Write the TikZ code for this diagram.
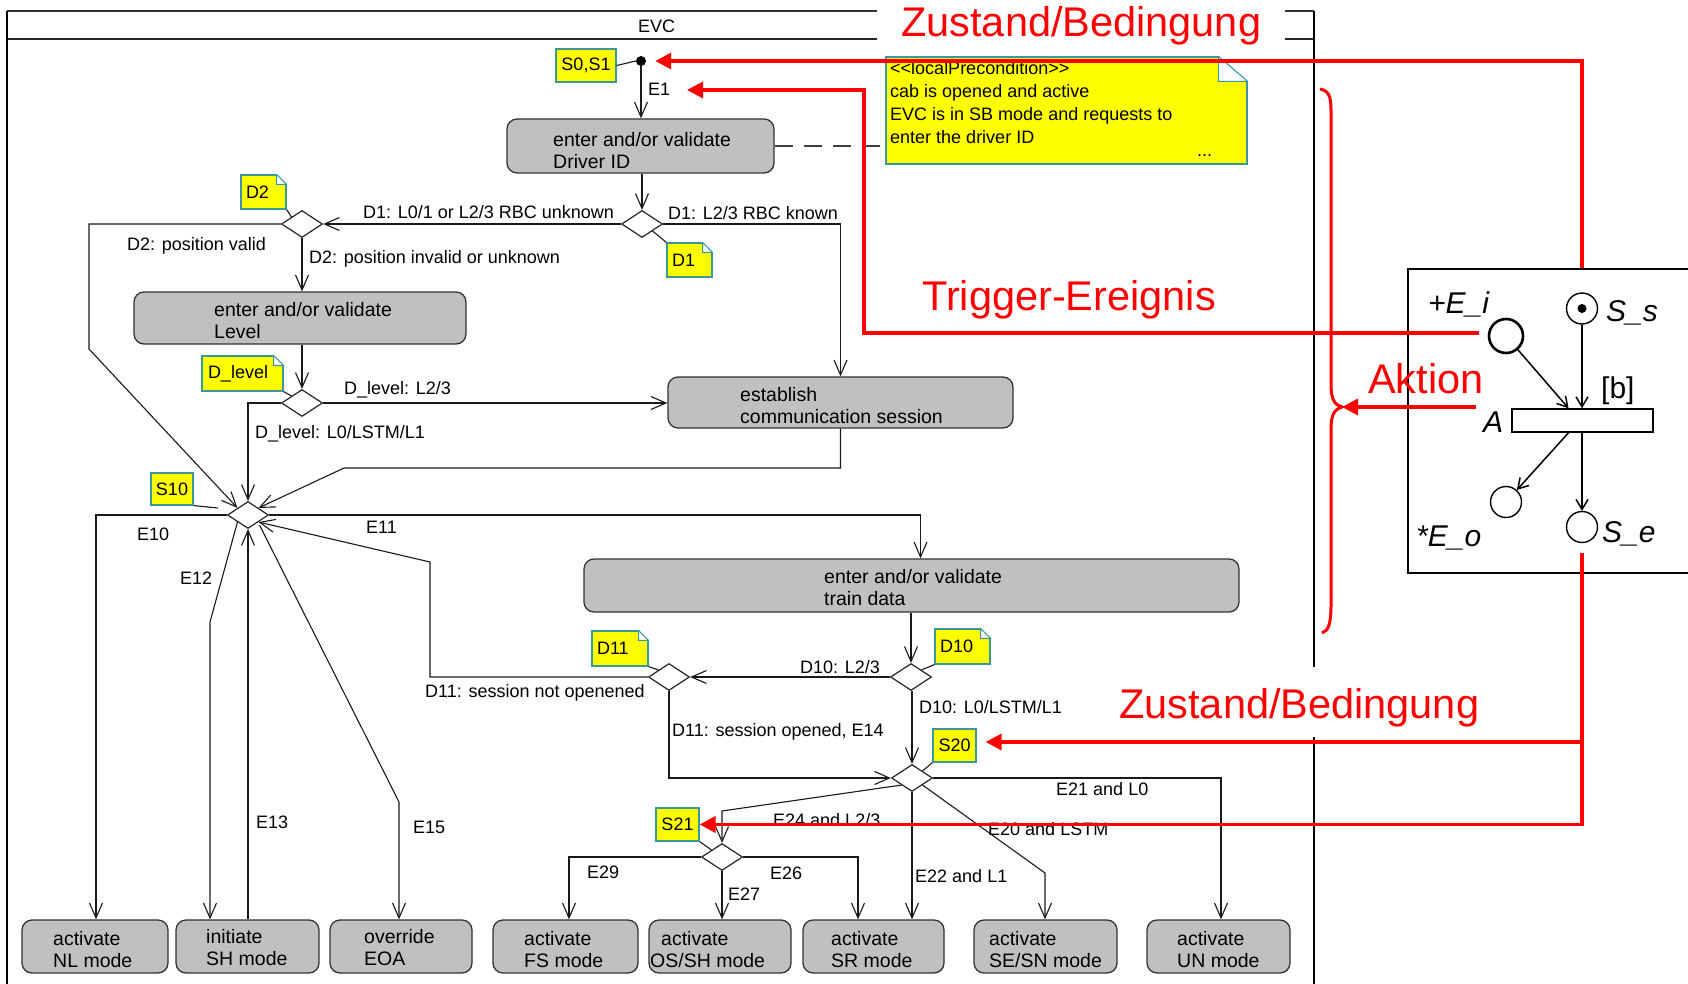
\documentclass[tikz,border=0pt]{standalone}
\usepackage{fontspec}
\setmainfont{Liberation Sans}
\usetikzlibrary{arrows.meta,shapes.geometric,calc}
\definecolor{boxgray}{HTML}{C0C0C0}
\definecolor{noteyellow}{HTML}{FFFF00}
\definecolor{noteteal}{HTML}{3A9898}
\definecolor{pred}{HTML}{FF0000}
\newcommand{\lab}{\fontsize{18}{22}\selectfont}
\newcommand{\btx}{\fontsize{19.5}{22}\selectfont}
\newcommand{\ptx}{\fontsize{30}{32}\selectfont\itshape}
\newcommand{\bigred}{\fontsize{41.5}{48}\selectfont}
\newcommand{\dogear}[3]{%
  \fill[white] ($(#1.north east)+(-#2,-1.5)$) rectangle ($(#1.north east)+(1.5,#3)$);
  \draw[noteteal, line width=1.1pt, line join=round] ($(#1.north east)+(-#2,0)$) -- ($(#1.north east)+(0,#3)$) -- ($(#1.north east)+(-#2,#3)$) -- cycle;
}
\begin{document}
\begin{tikzpicture}[x=1pt,y=-1pt,
  conn/.style={draw=black!90, line width=1.1pt},
  arr/.style={conn, -{Straight Barb[length=15pt,width=13pt]}},
  stbox/.style={rectangle, rounded corners=10pt, fill=boxgray, draw=black!80, line width=1.3pt, inner sep=0pt},
  dec/.style={diamond, draw=black!85, fill=white, line width=1.2pt, minimum width=41pt, minimum height=27pt, inner sep=0pt},
  snote/.style={rectangle, fill=noteyellow, draw=noteteal, line width=1.2pt, inner sep=0pt, font=\lab},
  dnote/.style={snote, align=left, inner xsep=5pt},
  lbl/.style={inner sep=0pt, font=\lab, anchor=base west},
  btext/.style={inner sep=0pt, font=\btx, align=left, anchor=west},
  redl/.style={draw=pred, line width=3.5pt},
  reda/.style={redl, -{Triangle[length=16pt,width=16pt]}},
  ptxt/.style={inner sep=0pt, font=\ptx, anchor=base west},
  place/.style={circle, draw=black, line width=1.4pt, inner sep=0pt, fill=white},
  parr/.style={draw=black, line width=1.5pt, -{Straight Barb[length=10pt,width=12pt]}}
]
\useasboundingbox (0,0) rectangle (1688,984);
\clip (0,0) rectangle (1688,984);
\fill[white] (0,0) rectangle (1688,984);

% ---------- frame ----------
\draw[line width=2.6pt, draw=black!80] (7,11) -- (1314,11);
\draw[line width=1.8pt, draw=black!85] (7,39) -- (1314,39);
\draw[line width=1.5pt] (7,11) -- (7,1000);
\draw[line width=1.3pt] (1314,11) -- (1314,1000);
\node[lbl] (evc) at (638,33) {EVC};
\node[anchor=base west, fill=white, inner xsep=24pt, inner ysep=6pt, text=pred, font=\bigred] (z1) at (877,37) {Zustand/Bedingung};

% ---------- states ----------
\node[circle, fill=black, inner sep=0pt, minimum size=10pt] (init) at (641,61) {};
\node[snote, minimum width=60pt, minimum height=33pt] (n_s01) at (586,65.5) {S0,S1};

\node[stbox, minimum width=267pt, minimum height=54pt] (drv) at (640.5,146) {};
\node[btext] (drvT) at (553,150.5) {enter and/or validate\\Driver ID};

\node[snote, minimum width=361pt, minimum height=107pt] (pre) at (1066.5,110.5) {};
\dogear{pre}{29}{25}
\node[inner sep=0pt, font=\fontsize{18}{23}\selectfont, align=left, anchor=north west] (preT) at (890,61)
  {<\kern0pt<localPrecondition>\kern0pt>\\cab is opened and active\\EVC is in SB mode and requests to\\enter the driver ID};
\node[lbl] (preDots) at (1197,157) {...};

\node[dec] (d1) at (642,224) {};
\node[dec] (d2) at (302,224) {};
\node[dnote, text width=35pt, minimum height=34pt] (n_d1) at (689.5,260) {D1};
\dogear{n_d1}{10}{10}
\node[dnote, text width=35pt, minimum height=34pt] (n_d2) at (263.5,192) {D2};
\dogear{n_d2}{10}{10}

\node[stbox, minimum width=332pt, minimum height=52pt] (lvl) at (300,318) {};
\node[btext] (lvlT) at (214,320.5) {enter and/or validate\\Level};

\node[dec] (dl) at (302,403) {};
\node[dnote, text width=69pt, inner xsep=6pt, minimum height=35pt] (n_dl) at (242.5,373.5) {D\_level};
\dogear{n_dl}{10}{10}

\node[stbox, minimum width=345pt, minimum height=51pt] (est) at (840.5,402.5) {};
\node[btext] (estT) at (740,405.5) {establish\\communication session};

\node[dec] (s10) at (248,515) {};
\node[snote, minimum width=42pt, minimum height=32pt] (n_s10) at (172,489) {S10};

\node[stbox, minimum width=655pt, minimum height=53pt] (trn) at (911.5,585.5) {};
\node[btext] (trnT) at (824,588) {enter and/or validate\\train data};

\node[dec] (d11) at (669,677) {};
\node[dec] (d10) at (911,677) {};
\node[dnote, text width=46pt, minimum height=35pt] (n_d11) at (620,648.5) {D11};
\dogear{n_d11}{10}{10}
\node[dnote, text width=45pt, minimum height=35pt] (n_d10) at (962.5,646.5) {D10};
\dogear{n_d10}{10}{10}

\node[dec] (s20) at (912,778) {};
\node[snote, minimum width=43pt, minimum height=33pt] (n_s20) at (954.5,745.5) {S20};
\node[dec] (s21) at (722,857) {};
\node[snote, minimum width=43pt, minimum height=33pt] (n_s21) at (677.5,824.5) {S21};

% bottom boxes
\node[stbox, minimum width=146pt, minimum height=53pt] (nl) at (95,946.5) {};
\node[stbox, minimum width=143pt, minimum height=53pt] (sh) at (247.5,946.5) {};
\node[stbox, minimum width=142pt, minimum height=53pt] (eoa) at (401,946.5) {};
\node[stbox, minimum width=145pt, minimum height=53pt] (fs) at (565.5,946.5) {};
\node[stbox, minimum width=142pt, minimum height=53pt] (os) at (720,946.5) {};
\node[stbox, minimum width=141pt, minimum height=53pt] (sr) at (873.5,946.5) {};
\node[stbox, minimum width=143pt, minimum height=53pt] (sesn) at (1045.5,946.5) {};
\node[stbox, minimum width=143pt, minimum height=53pt] (un) at (1218.5,946.5) {};
\node[btext] (nlT) at (53,950) {activate\\NL mode};
\node[btext] (shT) at (206,948) {initiate\\SH mode};
\node[btext] (eoaT) at (364,948) {override\\EOA};
\node[btext] (fsT) at (524,950) {activate\\FS mode};
\node[btext] (osT) at (650,950) {\hspace*{11pt}activate\\OS/SH mode};
\node[btext] (srT) at (831,950) {activate\\SR mode};
\node[btext] (seT) at (989,950) {activate\\SE/SN mode};
\node[btext] (unT) at (1177,950) {activate\\UN mode};

% ---------- waypoints ----------
\coordinate (w1) at (89,349);
\coordinate (w2) at (344,468);
\coordinate (w3) at (210,622);
\coordinate (w4) at (399,802);
\coordinate (w5) at (430,562);
\coordinate (w6) at (1045,873);
\coordinate (w7) at (722,811);

% ---------- connectors ----------
\draw[conn] (n_s01.east) -- (init.west);
\draw[arr] (init) -- (init |- drv.north);
\draw[conn, dash pattern=on 18pt off 11pt, draw=black!75] (drv.east) -- (drv.east -| pre.west);
\draw[arr] (d1 |- drv.south) -- (d1.north);
\draw[arr] (d1.west) -- (d2.east);
\draw[arr] (d1.east) -| (est.north);
\draw[conn] (n_d1.north west) -- (d1.south east);
\draw[conn] (n_d2.south east) -- (d2.north west);
\draw[arr] (d2.south) -- (d2.south |- lvl.north);
\draw[arr] (d2.west) -| (w1) -- (s10.north west);
\draw[arr] (dl |- lvl.south) -- (dl.north);
\draw[conn] (n_dl.south east) -- (dl.north west);
\draw[arr] (dl.east) -- (dl.east -| est.west);
\draw[arr] (dl.west) -| (s10.north);
\draw[arr] (est.south) |- (w2) -- (s10.north east);
\draw[conn] (n_s10.south east) -- ($(s10.west)+(-9,-7)$);
\draw[arr] (s10.west) -| ([xshift=1pt]nl.north);
\draw[arr] (s10.south west) -- (w3) -- (w3 |- sh.north);
\draw[arr] (sh.north -| s10) -- (s10.south);
\draw[arr] ($(s10.south east)+(1,3)$) -- (w4) -- (w4 |- eoa.north);
\draw[arr] (s10.east) -| ([xshift=9pt]trn.north);
\draw[arr] (d10 |- trn.south) -- (d10.north);
\draw[conn] (n_d10.south west) -- (d10.north east);
\draw[arr] (d10.west) -- (d11.east);
\draw[conn] (n_d11.south east) -- (d11.north west);
\draw[arr] (d11.west) -| (w5) -- (s10.south east);
\draw[arr] (d11.south) |- (s20.west);
\draw[arr] (s20 |- d10.south) -- (s20.north);
\draw[conn] (n_s20.south west) -- (s20.north east);
\draw[arr] (s20.east) -| ([xshift=2.5pt]un.north);
\draw[arr] (s20.south east) -- (w6) -- (w6 |- sesn.north);
\draw[arr] (s20.south) -- (s20.south |- sr.north);
\draw[arr] (s20.south west) -- (w7) -- (s21.north);
\draw[conn] (n_s21.south east) -- (s21.north west);
\draw[arr] (s21.west) -| ([xshift=3.5pt]fs.north);
\draw[arr] (s21.east) -| ([xshift=-15.5pt]sr.north);
\draw[arr] (s21.south) -- (s21.south |- os.north);

% ---------- labels ----------
\node[lbl] (e1) at (648,96) {E1};
\node[lbl] (lD1u) at (363,218.5) {D1: L0/1 or L2/3 RBC unknown};
\node[lbl] (lD1k) at (668,219.5) {D1: L2/3 RBC known};
\node[lbl] (lD2v) at (127,251) {D2: position valid};
\node[lbl] (lD2i) at (309,264) {D2: position invalid or unknown};
\node[lbl] (lDl23) at (344,394) {D\_level: L2/3};
\node[lbl] (lDl0) at (255,438) {D\_level: L0/LSTM/L1};
\node[lbl] (lE10) at (137,540) {E10};
\node[lbl] (lE11) at (366,533) {E11};
\node[lbl] (lE12) at (180,584) {E12};
\node[lbl] (lE13) at (256,828) {E13};
\node[lbl] (lE15) at (413,833) {E15};
\node[lbl] (lD11n) at (425,697) {D11: session not openened};
\node[lbl] (lD10a) at (800,673) {D10: L2/3};
\node[lbl] (lD10b) at (919,713) {D10: L0/LSTM/L1};
\node[lbl] (lD11o) at (672,736) {D11: session opened, E14};
\node[lbl] (lE21) at (1056,795) {E21 and L0};
\node[lbl] (lE20) at (988,835) {E20 and LSTM};
\node[lbl] (lE22) at (915,882) {E22 and L1};
\node[lbl] (lE24) at (773,826) {E24 and L2/3};
\node[lbl] (lE29) at (587,878) {E29};
\node[lbl] (lE26) at (770,879) {E26};
\node[lbl] (lE27) at (728,900) {E27};

% ---------- Petri net ----------
\node[draw, line width=1.8pt, fill=white, minimum width=290pt, minimum height=304pt, inner sep=0pt] (pbox) at (1553,421) {};
\node[place, line width=2.6pt, minimum size=34pt] (ei) at (1506,336) {};
\node[place, minimum size=31pt] (ss) at (1582,308.5) {};
\fill (ss) circle (4.5pt);
\node[place, minimum size=31pt] (eo) at (1506,502) {};
\node[place, minimum size=31pt] (pse) at (1582,527) {};
\node[draw, line width=1.5pt, fill=white, minimum width=141pt, minimum height=23pt, inner sep=0pt] (bar) at (1582.5,420.5) {};
\draw[parr] (ei) -- ([xshift=-14pt]bar.north);
\draw[parr] (ss) -- (ss |- bar.north);
\draw[parr] ([xshift=-14pt]bar.south) -- (eo);
\draw[parr] (pse |- bar.south) -- (pse);
\node[ptxt] (tEi) at (1428,313) {+E\_i};
\node[ptxt] (tSs) at (1606,321) {S\_s};
\node[inner sep=0pt, anchor=base west, font=\fontsize{30}{32}\selectfont] (tb) at (1601,398) {[b]};
\node[ptxt] (tA) at (1483,432) {A};
\node[ptxt] (tEo) at (1416,546) {*E\_o};
\node[ptxt] (tSe) at (1602,542) {S\_e};

% ---------- red annotations ----------
\node[fill=white, inner sep=0pt, minimum width=401pt, minimum height=70pt, anchor=north west] (zbg2) at (1099,667) {};
\node[anchor=base west, inner sep=0pt, text=pred, font=\bigred] (z2) at (1119,718) {Zustand/Bedingung};
\node[anchor=base west, inner sep=0pt, text=pred, font=\bigred] (trig) at (922,310) {Trigger-Ereignis};
\node[anchor=base west, inner sep=0pt, text=pred, font=\bigred] (akt) at (1368,393) {Aktion};

\coordinate (trgCorner) at (864,90);
\coordinate (trgEnd) at (687,90);
\coordinate (brTip) at (1342,407);
\coordinate (rj) at (1582,742);

\draw[reda, shorten >=9pt] (ss |- pbox.north) |- (init.east);
\draw[reda] ($(ei.west)+(-9,-3)$) -| (trgCorner) -- (trgEnd);
\draw[reda] ($(tA.west |- brTip)+(-7,0)$) -- (brTip);
\draw[reda] ([yshift=-10pt]pse.south) |- (n_s21.east);
\draw[reda, shorten >=9pt] (rj) -- (rj -| n_s20.east);
\draw[pred, line width=3pt] (1320,89) .. controls (1331,91) and (1331,100) .. (1331,115)
  -- (1331,385) .. controls (1331,400) and (1335,405) .. (brTip)
  .. controls (1335,409) and (1331,414) .. (1331,429)
  -- (1331,605) .. controls (1331,625) and (1328,631) .. (1322,633);
\end{tikzpicture}
\end{document}
